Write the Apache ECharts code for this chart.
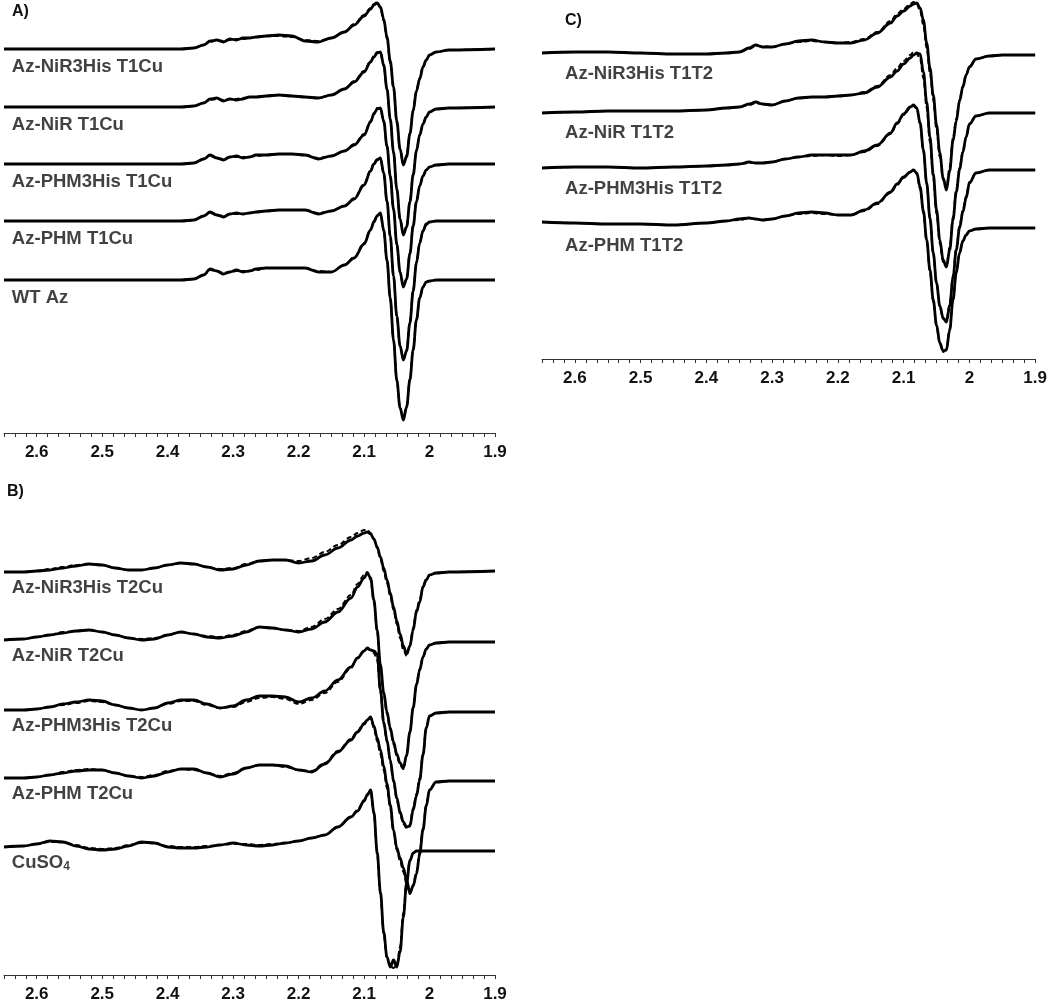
<!DOCTYPE html>
<html><head><meta charset="utf-8">
<script src="https://cdn.jsdelivr.net/npm/echarts/dist/echarts.min.js"></script>
<style>html,body{margin:0;padding:0;background:#fff}#c{width:1050px;height:1004px}</style>
</head><body><div id="c"></div>
<script>
// ---- g-value grids (x) ----
const gA = [2.65,2.55,2.45,2.38,2.36,2.345,2.335,2.325,2.315,2.305,2.295,2.285,2.275,2.265,2.25,2.23,2.21,2.19,2.17,2.15,2.13,2.115,2.10,2.09,2.085,2.08,2.075,2.07,2.065,2.06,2.055,2.05,2.045,2.04,2.035,2.03,2.025,2.02,2.015,2.01,2.005,2.00,1.99,1.97,1.90];
const gB = [2.65,2.62,2.60,2.58,2.56,2.54,2.52,2.50,2.48,2.46,2.44,2.42,2.40,2.38,2.36,2.34,2.32,2.30,2.28,2.26,2.24,2.22,2.20,2.18,2.16,2.14,2.12,2.11,2.10,2.095,2.09,2.085,2.08,2.075,2.07,2.065,2.06,2.055,2.05,2.045,2.04,2.035,2.03,2.025,2.02,2.015,2.01,2.005,2.00,1.99,1.97,1.90];
const gC = [2.65,2.60,2.55,2.50,2.45,2.40,2.37,2.35,2.335,2.325,2.315,2.30,2.28,2.26,2.24,2.22,2.20,2.18,2.16,2.14,2.12,2.11,2.10,2.09,2.085,2.08,2.075,2.07,2.065,2.06,2.055,2.05,2.045,2.04,2.035,2.03,2.025,2.02,2.015,2.01,2.005,2.00,1.99,1.97,1.95,1.90];

// ---- trace names ----
const namesA = ['Az-NiR3His T1Cu','Az-NiR T1Cu','Az-PHM3His T1Cu','Az-PHM T1Cu','WT Az'];
const namesB = ['Az-NiR3His T2Cu','Az-NiR T2Cu','Az-PHM3His T2Cu','Az-PHM T2Cu','CuSO4'];
const namesC = ['Az-NiR3His T1T2','Az-NiR T1T2','Az-PHM3His T1T2','Az-PHM T1T2'];

// ---- vertical stacking offsets (arb. units) ----
const offA = [384,326,269,212,153];
const offB = [403,335,265,197,128];
const offC = [306,247,191,134];

// ---- Panel A: experimental / simulated ----
const A1exp = [0,0,0,0,1,4,8,9,7,10,9,11,11,12,13,14,13,8,7,11,17,24,33,40,44,46,42,30,12,-12,-38,-72,-100,-116,-108,-85,-62,-42,-30,-18,-11,-6,-3,-1,0];
const A1sim = [0,0,0,0,1,4,7,9,8,9,10,10,11,12,13,13,12,9,8,11,17,25,34,41,45,47,41,28,10,-14,-40,-74,-101,-115,-106,-84,-61,-41,-29,-18,-11,-6,-3,-1,0];
const A2exp = [0,0,0,0,1,4,8,9,6,8,7,8,10,10,11,12,11,10,9,12,18,25,35,45,50,54,55,42,18,-12,-45,-82,-112,-128,-120,-95,-68,-44,-28,-17,-10,-5,-2,-1,0];
const A2sim = [0,0,0,0,1,4,7,8,7,8,8,9,10,10,11,12,11,10,9,12,18,26,36,46,51,55,54,41,17,-13,-46,-83,-112,-127,-119,-94,-67,-43,-28,-17,-10,-5,-2,-1,0];
const A3exp = [0,0,0,0,1,5,9,6,4,7,8,6,7,9,9,10,10,9,5,8,13,19,29,42,50,55,56,43,18,-12,-45,-80,-108,-123,-115,-90,-62,-38,-22,-12,-6,-3,-1,0,0];
const A3sim = [0,0,0,0,1,5,8,6,5,7,7,7,7,8,9,10,10,9,6,8,13,20,30,43,51,56,55,42,17,-13,-46,-81,-109,-122,-114,-89,-61,-37,-22,-12,-6,-3,-1,0,0];
const A4exp = [0,0,0,0,1,5,9,6,4,7,8,7,8,9,10,11,11,11,7,10,15,22,36,50,57,61,63,48,20,-15,-55,-95,-125,-139,-130,-102,-70,-42,-22,-10,-3,-1,0,0,0];
const A4sim = [0,0,0,0,1,5,8,6,5,7,7,7,8,9,10,11,11,11,8,10,15,23,37,51,58,62,62,47,19,-16,-56,-96,-125,-138,-129,-101,-69,-41,-22,-10,-4,-1,0,0,0];
const A5exp = [0,0,0,0,1,5,11,9,6,8,10,8,9,11,12,12,12,12,8,8,15,22,36,50,58,64,67,50,20,-18,-60,-100,-128,-140,-127,-100,-70,-40,-18,-7,-2,-1,0,0,0];
const A5sim = [0,0,0,0,1,5,10,9,7,8,9,9,9,10,12,12,12,12,9,8,15,23,37,51,59,65,66,49,19,-19,-61,-101,-128,-139,-126,-99,-69,-40,-18,-7,-2,-1,0,0,0];

// ---- Panel B ----
const B1exp = [0,0,1,2,4,6,8,7,4,2,2,4,7,9,8,5,2,3,7,11,12,12,9,11,17,24,32,36,39,40,38,33,25,15,4,-8,-21,-35,-49,-62,-74,-82,-74,-58,-40,-30,-15,-8,-3,-1,0,1];
const B1sim = [0,0,1,3,5,7,8,7,4,2,2,4,7,9,8,5,3,4,8,11,12,12,11,14,20,27,35,39,42,42,39,33,24,13,1,-11,-24,-38,-52,-66,-78,-84,-74,-56,-38,-28,-14,-7,-3,-1,0,1];
const B2exp = [0,1,3,5,7,9,10,8,5,2,0,1,5,8,6,3,2,4,8,13,12,10,8,11,18,28,42,53,62,67,62,40,10,-25,-52,-72,-88,-102,-114,-123,-128,-115,-92,-68,-45,-30,-17,-9,-5,-3,-2,-2];
const B2sim = [0,1,3,5,8,9,10,8,5,2,1,2,5,8,6,4,3,5,9,13,12,10,9,13,21,31,45,56,65,68,60,38,8,-27,-54,-74,-90,-104,-116,-125,-129,-116,-92,-67,-44,-29,-17,-9,-5,-3,-2,-2];
const B3exp = [0,0,1,3,6,8,10,9,5,2,0,2,7,10,10,6,2,4,10,14,14,13,8,12,19,30,43,52,59,62,60,59,56,20,-12,-30,-50,-70,-88,-102,-112,-117,-116,-100,-86,-70,-45,-18,-6,-3,-2,-2];
const B3sim = [0,0,1,3,5,7,9,8,5,2,0,2,6,9,9,5,2,3,8,12,13,11,6,10,17,28,42,52,59,61,60,57,50,18,-14,-32,-52,-72,-90,-104,-114,-118,-115,-98,-84,-68,-44,-18,-6,-3,-2,-2];
const B4exp = [0,0,1,3,5,7,8,8,5,2,0,2,6,9,9,5,1,4,10,13,13,12,8,6,14,26,38,46,54,58,61,52,40,28,12,-6,-27,-52,-70,-80,-90,-102,-115,-108,-96,-76,-52,-28,-12,-4,-3,-3];
const B4sim = [0,0,1,3,6,8,9,8,5,2,1,3,7,9,8,5,2,5,10,13,13,11,8,7,15,27,39,47,55,59,60,50,37,24,8,-10,-30,-54,-72,-83,-94,-106,-116,-107,-94,-74,-50,-27,-12,-4,-3,-3];
const B5exp = [0,1,3,6,5,1,-2,-3,-2,1,5,4,0,-1,-1,0,2,4,2,1,2,4,6,9,12,20,30,36,46,52,57,35,-5,-45,-85,-110,-120,-113,-120,-105,-70,-36,-14,-6,-4,-4,-4,-4,-4,-4,-4,-4];
const B5sim = [0,1,3,5,5,2,-1,-2,-1,2,4,4,1,0,0,1,2,3,3,2,3,4,6,9,12,20,30,37,47,53,56,33,-8,-48,-88,-112,-119,-121,-118,-100,-66,-34,-13,-6,-4,-4,-4,-4,-4,-4,-4,-4];

// ---- Panel C ----
const C1exp = [0,1,1,0,-1,-1,0,1,5,8,6,6,9,12,13,11,10,10,13,20,30,37,42,47,49,50,45,33,10,-15,-42,-72,-100,-125,-137,-118,-88,-68,-48,-34,-22,-14,-6,-3,-2,-2];
const C1sim = [0,1,1,0,-1,-1,0,1,4,7,7,6,9,11,12,11,10,11,14,21,32,39,44,49,51,49,42,28,5,-20,-47,-77,-104,-127,-135,-114,-85,-66,-47,-33,-22,-14,-6,-3,-2,-2];
const C2exp = [-1,0,1,1,1,2,4,5,8,10,8,7,11,14,15,15,16,17,19,25,35,41,48,54,57,59,58,40,10,-25,-62,-98,-128,-148,-155,-138,-108,-80,-58,-40,-25,-12,-4,-1,-1,-1];
const C2sim = [-1,0,1,1,1,2,4,5,7,9,8,7,11,14,15,15,16,17,20,26,37,44,51,57,60,58,53,34,4,-30,-66,-102,-131,-150,-154,-135,-105,-78,-56,-39,-25,-12,-4,-1,-1,-1];
const C3exp = [0,1,1,0,1,2,3,4,6,5,5,6,9,11,13,13,13,13,17,23,35,45,54,61,63,60,45,18,-15,-50,-85,-115,-138,-150,-154,-138,-110,-82,-60,-44,-30,-15,-5,-2,-2,-2];
const C3sim = [0,1,1,0,1,2,3,4,5,5,5,6,9,11,12,13,12,13,16,22,34,44,53,60,62,59,44,17,-16,-51,-86,-116,-139,-151,-152,-136,-108,-80,-58,-42,-28,-14,-5,-2,-2,-2];
const C4exp = [3,2,1,1,0,2,4,6,7,6,5,6,9,12,13,12,10,10,15,22,33,41,48,53,55,52,38,14,-15,-45,-75,-100,-118,-126,-125,-105,-75,-48,-28,-16,-10,-6,-4,-3,-3,-3];
const C4sim = [3,2,1,1,0,2,4,5,7,6,5,6,9,11,12,11,10,10,14,21,32,40,47,53,55,51,36,12,-17,-47,-77,-102,-119,-127,-124,-104,-74,-47,-28,-16,-10,-6,-4,-3,-3,-3];

// ---- rendering ----
const FONT = '"Liberation Sans", Arial, Helvetica, sans-serif';
const INK = '#000000';

function xAxisFor(i){
  return {type:'value', gridIndex:i, min:1.9, max:2.65, inverse:true, interval:1/60,
    axisLine:{show:true, onZero:false, lineStyle:{color:'#333', width:1}},
    axisTick:{show:true, length:4, lineStyle:{color:'#333', width:1}},
    splitLine:{show:false},
    axisLabel:{show:true, margin:11, fontSize:17, fontWeight:'bold', color:'#111', fontFamily:FONT,
      showMinLabel:true, showMaxLabel:true,
      formatter:function(v){ const r=Math.round(v*10); if(Math.abs(v*10-r)<0.01){ return String(r/10);} return ''; }}
  };
}
function yAxisFor(i,h){ return {type:'value', gridIndex:i, min:0, max:h, show:false}; }

function traceSeries(gi, g, exps, sims, off){
  const out=[];
  exps.forEach(function(arr,k){
    out.push({type:'line', xAxisIndex:gi, yAxisIndex:gi, symbol:'none', smooth:0.35, smoothMonotone:'x',
      silent:true, z:2, lineStyle:{color:INK, width:2.8},
      data:g.map(function(x,j){return [x, arr[j]+off[k]];})});
    out.push({type:'line', xAxisIndex:gi, yAxisIndex:gi, symbol:'none', smooth:0.35, smoothMonotone:'x',
      silent:true, z:3, lineStyle:{color:INK, width:2, type:[5,3]},
      data:g.map(function(x,j){return [x, sims[k][j]+off[k]];})});
  });
  return out;
}
function labelSeries(gi, names, off, gx, dy){
  return {type:'scatter', xAxisIndex:gi, yAxisIndex:gi, symbolSize:0, silent:true, z:5,
    data:names.map(function(n,k){return {name:n, value:[gx, off[k]-dy]};}),
    label:{show:true, position:'right', distance:0, fontSize:18.5, fontWeight:'bold', color:'#111', fontFamily:FONT,
      formatter:function(p){ return p.name.replace(/SO(\d)$/, 'SO{s|$1}'); },
      rich:{s:{fontSize:12, fontWeight:'bold', color:'#111', fontFamily:FONT, padding:[9,0,0,0]}}}
  };
}

const chart = echarts.init(document.getElementById('c'), null, {renderer:'canvas', width:1050, height:1004});
const series = [].concat(
  traceSeries(0, gA, [A1exp,A2exp,A3exp,A4exp,A5exp], [A1sim,A2sim,A3sim,A4sim,A5sim], offA),
  traceSeries(1, gB, [B1exp,B2exp,B3exp,B4exp,B5exp], [B1sim,B2sim,B3sim,B4sim,B5sim], offB),
  traceSeries(2, gC, [C1exp,C2exp,C3exp,C4exp], [C1sim,C2sim,C3sim,C4sim], offC),
  [labelSeries(0, namesA, offA, 2.638, 18), labelSeries(1, namesB, offB, 2.638, 15.5), labelSeries(2, namesC, offC, 2.615, 20.5)]
);
chart.setOption({
  animation:false,
  backgroundColor:'#ffffff',
  grid:[
    {left:4, right:555, top:0, height:433},
    {left:4, right:555, top:475, height:500},
    {left:542, right:13, top:0, height:359}
  ],
  xAxis:[xAxisFor(0), xAxisFor(1), xAxisFor(2)],
  yAxis:[yAxisFor(0,433), yAxisFor(1,500), yAxisFor(2,359)],
  graphic:[
    {type:'text', left:12, top:4, style:{text:'A)', font:'bold 16px '+FONT, fill:'#111'}},
    {type:'text', left:7, top:484, style:{text:'B)', font:'bold 16px '+FONT, fill:'#111'}},
    {type:'text', left:565, top:13, style:{text:'C)', font:'bold 16px '+FONT, fill:'#111'}}
  ],
  series:series
});
</script>
</body></html>
